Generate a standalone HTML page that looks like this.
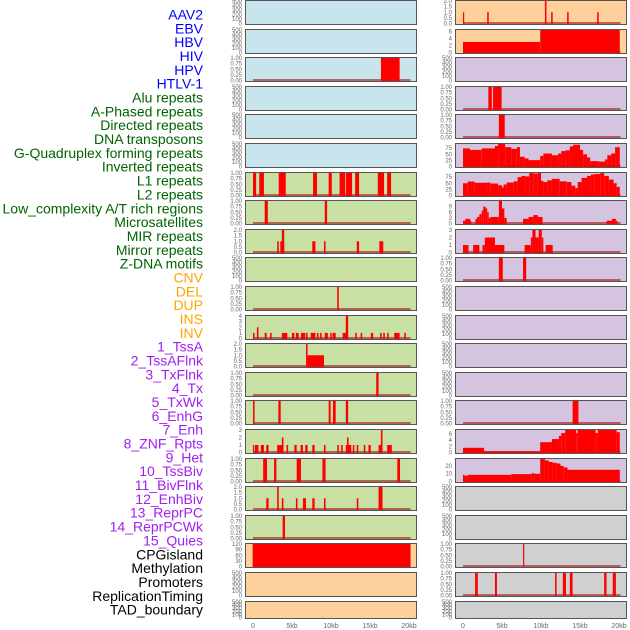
<!DOCTYPE html>
<html><head><meta charset="utf-8">
<style>
html,body{margin:0;padding:0;background:#fff;}
svg{display:block;font-family:"Liberation Sans",sans-serif;}
</style></head>
<body>
<svg id="chart" width="630" height="630" viewBox="0 0 630 630" xmlns="http://www.w3.org/2000/svg"></svg>
<script>
// ---------- labels ----------
const labelNames = ["AAV2","EBV","HBV","HIV","HPV","HTLV-1","Alu repeats","A-Phased repeats","Directed repeats","DNA transposons","G-Quadruplex forming repeats","Inverted repeats","L1 repeats","L2 repeats","Low_complexity A/T rich regions","Microsatellites","MIR repeats","Mirror repeats","Z-DNA motifs","CNV","DEL","DUP","INS","INV","1_TssA","2_TssAFlnk","3_TxFlnk","4_Tx","5_TxWk","6_EnhG","7_Enh","8_ZNF_Rpts","9_Het","10_TssBiv","11_BivFlnk","12_EnhBiv","13_ReprPC","14_ReprPCWk","15_Quies","CPGisland","Methylation","Promoters","ReplicationTiming","TAD_boundary"];
const labelGroups = [6,13,5,15,5];
const groupColors = ["#0000ff","#006400","#ffa500","#a020f0","#000000"];

// ---------- x axis ----------
const xTickValues = [0,5,10,15,20];
const xTickLabels = ["0","5kb","10kb","15kb","20kb"];

// ---------- panel backgrounds ----------
const BLUE="#c8e4ec", GREEN="#c8e0a4", PURPLE="#d4c4e0", PEACH="#fdd09c", GREY="#d0d0d0";
const leftBg = [BLUE,BLUE,BLUE,BLUE,BLUE,BLUE,GREEN,GREEN,GREEN,GREEN,GREEN,GREEN,GREEN,GREEN,GREEN,GREEN,GREEN,GREEN,GREEN,PEACH,PEACH,PEACH];
const rightBg = [PEACH,PEACH,PURPLE,PURPLE,PURPLE,PURPLE,PURPLE,PURPLE,PURPLE,PURPLE,PURPLE,PURPLE,PURPLE,PURPLE,PURPLE,PURPLE,PURPLE,GREY,GREY,GREY,GREY,GREY];

// ---------- y ranges ----------
const T500 = ["0","100","200","300","400","500"];
const T1 = ["0.00","0.25","0.50","0.75","1.00"];
const T2 = ["0.0","0.5","1.0","1.5","2.0"];
const leftMax = [500,500,1,500,500,500,1,1,2,500,1,4,2,1,1,3,1,2,1,120,500,500];
const leftTicks = [T500,T500,T1,T500,T500,T500,T1,T1,T2,T500,T1,["0","1","2","3","4"],T2,T1,T1,["0","1","2","3"],T1,T2,T1,["0","30","60","90","120"],T500,T500];
const rightMax = [2,6.4,500,1,1,92,92,12,3,1,500,500,500,500,1,7.2,28.8,500,500,1,1,500];
const rightTicks = [T2,["0","2","4","6"],T500,T1,T1,["0","25","50","75"],["0","25","50","75"],["0","3","6","9"],["0","1","2","3"],T1,T500,T500,T500,T500,T1,["0","2","4","6"],["0","10","20"],T500,T500,T1,T1,T500];

// ---------- series: [startKb, endKb, value] ----------
const leftSeries = [
 [],[],
 [[16.4,18.8,1]],
 [],[],[],
 [[0,0.4,1],[0.8,1.4,1],[3.3,4.2,1],[7.7,8.2,1],[9.7,10.1,1],[11.1,11.8,1],[11.9,12.7,1],[13.1,13.6,1],[16.0,16.8,1],[17.2,17.7,1]],
 [[1.5,1.9,1],[9.2,9.5,1]],
 [[3.1,3.3,1],[3.5,4.0,1],[3.7,4.0,2],[7.6,8.0,1],[9.1,9.3,1],[13.3,13.6,1],[16.2,16.7,1]],
 [],
 [[10.8,11.0,1]],
 [[0,0.2,1],[0.5,0.7,2],[1.5,1.75,1],[2.2,2.4,1],[3.7,4.4,1],[5.0,5.3,1],[5.5,5.85,1],[6.15,6.7,1],[6.8,7.0,1],[7.4,8.0,1],[8.2,8.4,1],[8.6,8.8,1],[9.2,9.6,1],[9.9,10.1,1],[10.2,10.6,1],[11.5,12.2,1],[11.9,12.2,4],[13.1,13.3,1],[13.8,14.0,1],[15.1,15.4,1],[16.3,16.5,1],[16.7,16.9,1],[17.2,17.4,1],[18.1,18.8,1],[19.4,19.6,1]],
 [[6.8,7.0,2],[7.0,9.1,1]],
 [[15.8,16.1,1]],
 [[0,0.2,1],[3.25,3.55,1],[9.7,9.95,1],[10.25,10.6,1],[11.9,12.2,1]],
 [[0,0.1,1],[0.25,0.7,1],[1.0,1.4,1],[1.7,2.0,1],[3.1,3.9,1],[3.7,3.9,2],[4.3,4.5,1],[5.3,5.6,1],[6.1,6.4,1],[6.7,7.0,1],[7.6,7.9,1],[9.1,9.3,1],[10.8,11.0,1],[11.3,11.5,1],[11.9,12.6,1],[12.05,12.25,2],[12.8,13.0,1],[13.3,13.5,1],[14.2,14.4,1],[14.8,15.1,1],[16.1,16.6,1],[16.4,16.6,3],[17.2,17.8,1]],
 [[1.3,1.8,1],[2.7,3.0,1],[5.6,6.15,1],[8.9,9.3,1],[18.5,18.85,1]],
 [[1.7,2.0,1],[3.1,3.3,2],[3.7,3.9,1],[5.5,5.7,1],[6.4,6.8,1],[7.6,7.9,1],[9.1,9.3,1],[13.3,13.5,1],[16.1,16.6,2]],
 [[3.8,4.1,1]],
 [[-0.05,20.2,120]],
 [],[]
];
const rightSeries = [
 [[0,0.15,1],[3.1,3.3,1],[10.5,10.7,2],[11.3,11.5,1],[13.35,13.55,1],[17.2,17.4,1]],
 [[0,9.9,3],[9.9,20.1,6.4]],
 [],
 [[3.25,3.7,1],[3.85,4.95,1]],
 [[4.6,5.35,1]],
 [[0,0.9,74],[0.9,2.4,68],[2.4,4.1,74],[4.1,4.5,84],[4.5,5.4,92],[5.4,6.2,79],[6.2,6.9,72],[6.9,7.3,79],[7.3,7.9,40],[7.9,8.4,33],[8.4,9.9,26],[9.9,10.3,43],[10.3,11.4,53],[11.4,12.2,46],[12.2,12.6,53],[12.6,13.1,63],[13.1,13.7,66],[13.7,14.1,82],[14.1,15.0,89],[15.0,15.4,68],[15.4,15.9,50],[15.9,16.3,37],[16.3,17.4,22],[17.4,18.2,20],[18.2,18.5,29],[18.5,19.0,46],[19.0,19.5,53],[19.5,20.1,79]],
 [[0,0.6,50],[0.6,1.5,57],[1.5,3.0,52],[3.0,3.5,53],[3.5,4.5,49],[4.5,5.0,42],[5.0,5.2,33],[5.2,5.6,45],[5.6,6.5,53],[6.5,7.0,58],[7.0,7.5,75],[7.5,8.0,80],[8.0,8.5,78],[8.5,9.0,92],[9.0,9.6,90],[9.6,10.0,92],[10.0,10.3,60],[10.3,10.8,55],[10.8,11.4,62],[11.4,12.4,68],[12.4,13.3,58],[13.3,13.9,55],[13.9,14.4,40],[14.4,14.7,30],[14.7,15.2,55],[15.2,15.9,72],[15.9,16.4,80],[16.4,16.9,86],[16.9,17.6,88],[17.6,18.1,92],[18.1,18.7,80],[18.7,19.3,65],[19.3,19.7,50],[19.7,20.1,35]],
 [[0,0.3,1.5],[0.3,0.9,2.5],[0.9,1.0,1.5],[1.6,1.8,2.5],[1.8,2.1,3.5],[2.1,2.4,5],[2.4,2.6,7],[2.6,2.9,9],[2.9,3.1,8],[3.1,3.3,6],[3.3,3.5,3],[3.5,4.6,3.5],[4.6,5.0,12],[5.0,5.3,8],[5.3,5.6,3],[7.7,8.4,2.5],[8.4,9.0,3.5],[9.0,9.6,4.5],[9.6,10.2,3.5],[18.4,19.1,1.5],[19.1,19.6,2.5],[19.6,19.8,1.5]],
 [[0,0.7,1],[1.3,2.1,1],[2.5,2.8,1],[2.8,4.1,2],[4.1,5.3,1],[7.9,8.7,1],[8.7,8.9,2],[8.9,9.3,3],[9.3,9.7,2],[9.7,10.1,3],[10.1,10.3,2],[10.6,11.5,1]],
 [[4.6,5.1,1],[7.7,8.1,1]],
 [],[],[],[],
 [[14.05,14.8,1]],
 [[0,2.7,1.5],[2.7,9.9,0.4],[9.9,11.4,3.3],[11.4,12.3,4.3],[12.3,12.6,5.3],[12.6,13.1,6.2],[13.1,14.5,7.2],[14.5,14.7,6.2],[14.7,17.0,7.2],[17.0,17.3,6.2],[17.3,19.7,7.2],[19.7,20.1,6.5]],
 [[0,0.2,8.5],[0.2,0.6,7.5],[0.6,6.2,8.5],[6.2,8.8,9.5],[8.8,9.2,10.5],[9.2,9.9,9.8],[9.9,10.5,28.8],[10.5,11.0,27],[11.0,11.5,25],[11.5,12.0,24],[12.0,12.5,23],[12.5,12.9,20],[12.9,13.4,18],[13.4,20.1,15]],
 [],[],
 [[7.7,7.85,1]],
 [[1.55,1.9,1],[4.1,4.35,1],[11.8,12.0,1],[12.8,13.2,1],[13.7,14.05,1],[18.1,18.4,1],[19.2,19.6,1]],
 []
];

// ---------- drawing ----------
const NS = "http://www.w3.org/2000/svg";
const svg = document.getElementById("chart");
function mk(tag, attrs, parent){
  const e = document.createElementNS(NS, tag);
  for (const k in attrs) e.setAttribute(k, attrs[k]);
  (parent||svg).appendChild(e);
  return e;
}
const ROW_PITCH = 28.6, PANEL_H = 24, KB_PX = 7.8;
const columns = [{px:245, x0:253, bg:leftBg, max:leftMax, ticks:leftTicks, series:leftSeries, side:"left"},
                 {px:455, x0:463, bg:rightBg, max:rightMax, ticks:rightTicks, series:rightSeries, side:"right"}];

// labels
let li = 0;
labelGroups.forEach((n, g) => {
  for (let k = 0; k < n; k++) {
    const t = mk("text", {x:203, y:(19.5 + li*13.84).toFixed(1), "text-anchor":"end", "font-size":"14", fill:groupColors[g]});
    t.textContent = labelNames[li];
    
    
    li++;
  }
});

columns.forEach(col => {
  const xs = kb => col.x0 + kb*KB_PX;
  for (let r = 0; r < 22; r++) {
    const top = Math.round(r*ROW_PITCH) + 0.5;
    const h = (r === 21) ? 17 : PANEL_H;
    const g = mk("g", {});
    
    
    const bg = mk("rect", {x:col.px+0.5, y:top, width:171, height:h, fill:col.bg[r], stroke:"none"}, g);
    
    
    const ymax = col.max[r];
    const yBase = top + h - 1;
    const ys = v => yBase - (v/ymax)*(h-1.5);
    // ticks
    const tl = col.ticks[r];
    const tmax = parseFloat(tl[tl.length-1]);
    tl.forEach(s => {
      const v = parseFloat(s);
      const tt = mk("text", {x:col.px-3, y:(ys(v)+2).toFixed(1), "text-anchor":"end", "font-size":"6", fill:"#666"}, g);
      tt.textContent = s;
      
      
    });
    const data = col.series[r];
    if (data.length) {
      const base = mk("line", {x1:xs(0), x2:xs(20.2), y1:yBase-0.5, y2:yBase-0.5, stroke:"rgba(160,0,0,0.55)", "stroke-width":2}, g);
      
      
      data.forEach(d => {
        const x1 = xs(d[0]), x2 = xs(d[1]);
        const yt = ys(Math.min(d[2], ymax));
        const b = mk("rect", {x:x1.toFixed(2), y:yt.toFixed(2), width:Math.max(1.2, x2-x1).toFixed(2), height:(yBase-yt+0.5).toFixed(2), fill:"#ff0000"}, g);
        
        
      });
    }
    const border = mk("rect", {x:col.px+0.5, y:top, width:171, height:h, fill:"none", stroke:"#555", "stroke-width":1}, g);
    
    
  }
  xTickValues.forEach((v, i) => {
    const t = mk("text", {x:xs(v), y:628, "text-anchor":"middle", "font-size":"7", fill:"#666"});
    t.textContent = xTickLabels[i];
    
    
  });
});
</script>
</body></html>
